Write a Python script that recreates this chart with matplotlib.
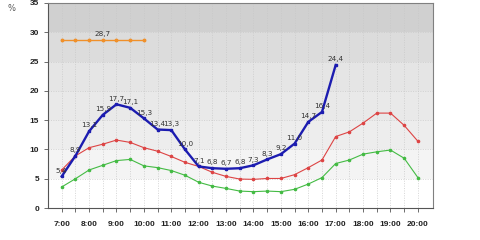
import numpy as np
import matplotlib
matplotlib.use('Agg')
import matplotlib.pyplot as plt

# half-hour steps from 7:00 to 20:00
hours = np.arange(7, 20.01, 0.5)

blue = [5.4, 8.9, 13.1, 15.9, 17.7, 17.1, 15.3, 13.4, 13.3, 10.0, 7.1, 6.8, 6.7,
        6.8, 7.3, 8.3, 9.2, 11.0, 14.7, 16.4, 24.4]
orange = [28.7, 28.7, 28.7, 28.7, 28.7, 28.7, 28.7]
red = [6.5, 8.9, 10.3, 10.9, 11.6, 11.2, 10.3, 9.7, 8.8, 7.8, 7.1, 6.1, 5.4, 4.95,
       4.9, 5.05, 5.05, 5.7, 6.9, 8.2, 12.2, 13.0, 14.5, 16.2, 16.2, 14.1, 11.4]
green = [3.6, 5.0, 6.5, 7.3, 8.1, 8.3, 7.2, 6.9, 6.4, 5.6, 4.4, 3.75, 3.35, 2.9,
         2.8, 2.9, 2.8, 3.2, 4.1, 5.2, 7.6, 8.2, 9.2, 9.6, 9.9, 8.5, 5.2]

band_edges = [0, 5, 10, 15, 20, 25, 30, 35]
band_colors = ['#ffffff', '#f4f4f4', '#ededed', '#e9e9e9', '#e5e5e5', '#dcdcdc', '#d0d0d0']

fig = plt.figure(figsize=(4.8, 2.4), dpi=100)
ax = fig.add_axes([0.1, 0.133, 0.802, 0.855])

for i in range(len(band_colors)):
    ax.axhspan(band_edges[i], band_edges[i + 1], color=band_colors[i], zorder=0, lw=0)

ax.set_xlim(6.5, 20.55)
ax.set_ylim(0, 35)
ax.set_xticks(hours)
ax.set_xticklabels(['%d:00' % h if h == int(h) else '' for h in hours])
ax.set_yticks(range(0, 36, 5))
ax.grid(True, color='#c8c8c8', linestyle=(0, (1.5, 2)), linewidth=0.5, zorder=1)

ax.plot(hours, green, color='#44bb44', lw=0.8, marker='o', ms=1.6, zorder=3)
ax.plot(hours, red, color='#dd4444', lw=0.8, marker='o', ms=1.6, zorder=3)
ax.plot(hours[:len(orange)], orange, color='#f0902a', lw=1.0, marker='o', ms=1.8, zorder=3)
ax.plot(hours[:len(blue)], blue, color='#1c1cb0', lw=1.7, marker='s', ms=1.8, zorder=4)

for x, v in zip(hours[:len(blue)], blue):
    ax.annotate(('%.1f' % v).replace('.', ','), (x, v), xytext=(0, 2),
                textcoords='offset points', ha='center', va='bottom',
                fontsize=5.2, color='#333333', zorder=5)
ax.annotate(('%.1f' % orange[3]).replace('.', ','), (hours[3], orange[3]), xytext=(0, 2),
            textcoords='offset points', ha='center', va='bottom',
            fontsize=5.2, color='#333333', zorder=5)

for s in ax.spines.values():
    s.set_color('#808080')
    s.set_linewidth(0.8)
ax.spines['left'].set_color('#555555')
ax.spines['bottom'].set_color('#555555')
ax.tick_params(axis='both', length=3, width=0.6, color='#555555',
               labelsize=6, labelcolor='#222222')
for lab in ax.get_xticklabels() + ax.get_yticklabels():
    lab.set_fontweight('bold')
    lab.set_family('Liberation Sans')
ax.tick_params(axis='x', pad=6)

fig.text(0.015, 0.985, '%', fontsize=6, color='#555555', va='top')

fig.savefig('out.png', dpi=100, facecolor='white')
